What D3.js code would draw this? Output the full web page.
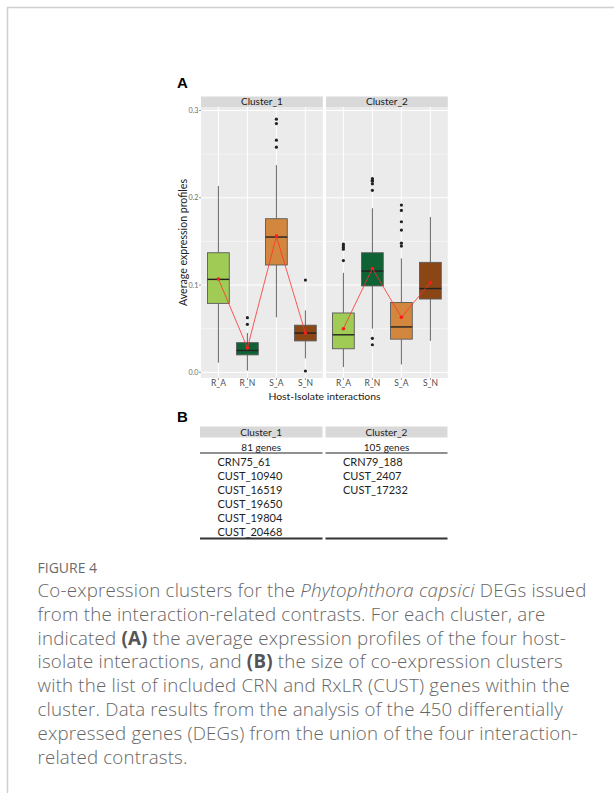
<!DOCTYPE html>
<html>
<head>
<meta charset="utf-8">
<script src="https://cdn.jsdelivr.net/npm/d3@7"></script>
<style>
  html, body { margin: 0; padding: 0; background: #fff; }
</style>
</head>
<body>
<div id="figure"></div>
<script>
// ============================================================================
// data
// ============================================================================

const clusters = ["Cluster_1", "Cluster_2"];
const interactions = ["R_A", "R_N", "S_A", "S_N"];
const fillColors = ["#a0cb55", "#0f6234", "#d3873e", "#8b4616"];

// per cluster, per interaction (R_A, R_N, S_A, S_N)
const whiskerLow  = [[0.011, 0.002, 0.063, 0.016], [0.006, 0.050, 0.009, 0.036]];
const q1          = [[0.079, 0.020, 0.123, 0.036], [0.027, 0.099, 0.038, 0.084]];
const median      = [[0.1065, 0.025, 0.155, 0.045], [0.043, 0.116, 0.052, 0.096]];
const q3          = [[0.137, 0.034, 0.176, 0.054], [0.068, 0.137, 0.080, 0.126]];
const whiskerHigh = [[0.2135, 0.045, 0.2375, 0.071], [0.114, 0.188, 0.1305, 0.178]];
const means       = [[0.107, 0.028, 0.156, 0.045], [0.050, 0.119, 0.063, 0.103]];
const outliers    = [
  [[], [0.055, 0.0626], [0.258, 0.266, 0.285, 0.290], [0.0015, 0.1057]],
  [[0.128, 0.141, 0.143, 0.145, 0.147], [0.0316, 0.039, 0.2085, 0.216, 0.219, 0.220, 0.222],
   [0.1446, 0.148, 0.163, 0.1725, 0.1855, 0.1916], []]
];
const yTicks = [0.0, 0.1, 0.2, 0.3];
const yMinor = [0.05, 0.15, 0.25];

// table B
const geneCounts = ["81 genes", "105 genes"];
const geneLists = [
  ["CRN75_61", "CUST_10940", "CUST_16519", "CUST_19650", "CUST_19804", "CUST_20468"],
  ["CRN79_188", "CUST_2407", "CUST_17232"]
];

// ============================================================================
// drawing
// ============================================================================

const W = 614, H = 793;
const svg = d3.select("#figure").append("svg")
  .attr("width", W).attr("height", H)
  .attr("font-family", "Lato, sans-serif");

// outer frame
svg.append("path")
  .attr("d", `M7.5,${H} V7.5 H${W}`)
  .attr("fill", "none").attr("stroke", "#cfcfcf").attr("stroke-width", 1.5);

// panel A
const panelTop = 107, panelBottom = 378;
const panelX = [[201, 322.8], [326, 447.8]];
const y = d3.scaleLinear().domain([-0.0065, 0.304]).range([panelBottom, panelTop]);

svg.append("text").attr("x", 177).attr("y", 88)
  .attr("font-family", "Liberation Sans, Arial").attr("font-weight", "bold")
  .attr("font-size", 15).text("A");

clusters.forEach((cl, ci) => {
  const [x0, x1] = panelX[ci];
  const x = d3.scalePoint().domain(interactions).range([x0, x1]).padding(0.6);
  const g = svg.append("g");

  // panel background + grid
  g.append("rect").attr("x", x0).attr("y", panelTop)
    .attr("width", x1 - x0).attr("height", panelBottom - panelTop).attr("fill", "#ebebeb");
  g.selectAll(".minor").data(yMinor).join("line")
    .attr("x1", x0).attr("x2", x1).attr("y1", d => y(d)).attr("y2", d => y(d))
    .attr("stroke", "#fff").attr("stroke-width", 0.5);
  g.selectAll(".major").data(yTicks).join("line")
    .attr("x1", x0).attr("x2", x1).attr("y1", d => y(d)).attr("y2", d => y(d))
    .attr("stroke", "#fff").attr("stroke-width", 1);
  g.selectAll(".vgrid").data(interactions).join("line")
    .attr("x1", d => x(d)).attr("x2", d => x(d)).attr("y1", panelTop).attr("y2", panelBottom)
    .attr("stroke", "#fff").attr("stroke-width", 1);

  // strip
  g.append("rect").attr("x", x0).attr("y", 96.5)
    .attr("width", x1 - x0).attr("height", 10.5).attr("fill", "#d9d9d9");
  g.append("text").attr("x", (x0 + x1) / 2).attr("y", 105.2)
    .attr("text-anchor", "middle").attr("font-size", 10).attr("fill", "#1a1a1a").text(cl);

  const bw = x.step() * 0.75;
  interactions.forEach((it, k) => {
    const cx = x(it);
    // whiskers
    g.append("line").attr("x1", cx).attr("x2", cx)
      .attr("y1", y(whiskerHigh[ci][k])).attr("y2", y(q3[ci][k]))
      .attr("stroke", "#555").attr("stroke-width", 0.9);
    g.append("line").attr("x1", cx).attr("x2", cx)
      .attr("y1", y(q1[ci][k])).attr("y2", y(whiskerLow[ci][k]))
      .attr("stroke", "#555").attr("stroke-width", 0.9);
    // box
    g.append("rect").attr("x", cx - bw / 2).attr("y", y(q3[ci][k]))
      .attr("width", bw).attr("height", y(q1[ci][k]) - y(q3[ci][k]))
      .attr("fill", fillColors[k]).attr("stroke", "#5a5a5a").attr("stroke-width", 0.9);
    g.append("line").attr("x1", cx - bw / 2).attr("x2", cx + bw / 2)
      .attr("y1", y(median[ci][k])).attr("y2", y(median[ci][k]))
      .attr("stroke", "#222").attr("stroke-width", 1.4);
    // outliers
    g.selectAll(null).data(outliers[ci][k]).join("circle")
      .attr("cx", cx).attr("cy", d => y(d)).attr("r", 1.6).attr("fill", "#222");
  });

  // mean line
  const line = d3.line().x((d, k) => x(interactions[k])).y(d => y(d));
  g.append("path").attr("d", line(means[ci]))
    .attr("fill", "none").attr("stroke", "#ff3030").attr("stroke-width", 0.8);
  g.selectAll(".mean").data(means[ci]).join("circle")
    .attr("cx", (d, k) => x(interactions[k])).attr("cy", d => y(d))
    .attr("r", 1.8).attr("fill", "#ff1a1a");

  // x axis
  g.selectAll(".xt").data(interactions).join("line")
    .attr("x1", d => x(d)).attr("x2", d => x(d))
    .attr("y1", panelBottom).attr("y2", panelBottom + 2)
    .attr("stroke", "#555").attr("stroke-width", 0.6);
  g.selectAll(".xl").data(interactions).join("text")
    .attr("x", d => x(d)).attr("y", panelBottom + 8.3)
    .attr("text-anchor", "middle").attr("font-size", 8.5).attr("fill", "#4d4d4d")
    .text(d => d);

  // y axis on first panel only
  if (ci === 0) {
    g.selectAll(".yt").data(yTicks).join("line")
      .attr("x1", x0 - 2).attr("x2", x0).attr("y1", d => y(d)).attr("y2", d => y(d))
      .attr("stroke", "#555").attr("stroke-width", 0.6);
    g.selectAll(".yl").data(yTicks).join("text")
      .attr("x", x0 - 2.5).attr("y", d => y(d) + 2.5)
      .attr("text-anchor", "end").attr("font-size", 7.2).attr("fill", "#6a6a6a")
      .text(d => d3.format(".1f")(d));
  }
});

// axis titles
svg.append("text").attr("x", 324.5).attr("y", 400)
  .attr("text-anchor", "middle").attr("font-size", 10.4).attr("fill", "#222")
  .text("Host-Isolate interactions");
svg.append("text")
  .attr("transform", `translate(186.5,${(panelTop + panelBottom) / 2}) rotate(-90)`)
  .attr("text-anchor", "middle").attr("font-size", 10.6).attr("fill", "#222")
  .text("Average expression profiles");

// panel B table
svg.append("text").attr("x", 177).attr("y", 422)
  .attr("font-family", "Liberation Sans, Arial").attr("font-weight", "bold")
  .attr("font-size", 15).text("B");

const colX = [[200, 322.5], [325.5, 447.5]];
clusters.forEach((cl, ci) => {
  const [x0, x1] = colX[ci];
  const t = svg.append("g");
  t.append("rect").attr("x", x0).attr("y", 426.5).attr("width", x1 - x0).attr("height", 11)
    .attr("fill", "#d9d9d9");
  t.append("text").attr("x", (x0 + x1) / 2).attr("y", 435.8).attr("text-anchor", "middle")
    .attr("font-size", 10).attr("fill", "#222").text(cl);
  t.append("text").attr("x", (x0 + x1) / 2).attr("y", 450.5).attr("text-anchor", "middle")
    .attr("font-size", 10).attr("fill", "#222").text(geneCounts[ci]);
  t.append("line").attr("x1", x0).attr("x2", x1).attr("y1", 453).attr("y2", 453)
    .attr("stroke", "#222").attr("stroke-width", 1.2);
  t.selectAll(".gene").data(geneLists[ci]).join("text")
    .attr("x", x0 + 17.5).attr("y", (d, i) => 466 + i * 14)
    .attr("font-size", 11).attr("fill", "#222").text(d => d);
  t.append("line").attr("x1", x0).attr("x2", x1).attr("y1", 538.5).attr("y2", 538.5)
    .attr("stroke", "#333").attr("stroke-width", 2);
});

// caption
svg.append("text").attr("x", 37.5).attr("y", 573)
  .attr("font-family", "Open Sans, sans-serif").attr("font-weight", 500)
  .attr("font-size", 14).attr("fill", "#6b6b6b")
  .text("FIGURE 4");

const captionLines = [
  [["Co-expression clusters for the ", ""], ["Phytophthora capsici", "i"], [" DEGs issued", ""]],
  [["from the interaction-related contrasts. For each cluster, are", ""]],
  [["indicated ", ""], ["(A)", "b"], [" the average expression profiles of the four host-", ""]],
  [["isolate interactions, and ", ""], ["(B)", "b"], [" the size of co-expression clusters", ""]],
  [["with the list of included CRN and RxLR (CUST) genes within the", ""]],
  [["cluster. Data results from the analysis of the 450 differentially", ""]],
  [["expressed genes (DEGs) from the union of the four interaction-", ""]],
  [["related contrasts.", ""]]
];
const cap = svg.append("text").attr("font-family", "Open Sans, sans-serif")
  .attr("font-weight", 300).attr("font-size", 18.7).attr("letter-spacing", 0.2)
  .attr("fill", "#666");
captionLines.forEach((ln, i) => {
  ln.forEach((seg, j) => {
    const ts = cap.append("tspan").text(seg[0]);
    if (j === 0) ts.attr("x", 37.5).attr("y", 597 + i * 23.8);
    if (seg[1] === "i") ts.attr("font-style", "italic");
    if (seg[1] === "b") ts.attr("font-weight", "bold").attr("fill", "#555");
  });
});
</script>
</body>
</html>
